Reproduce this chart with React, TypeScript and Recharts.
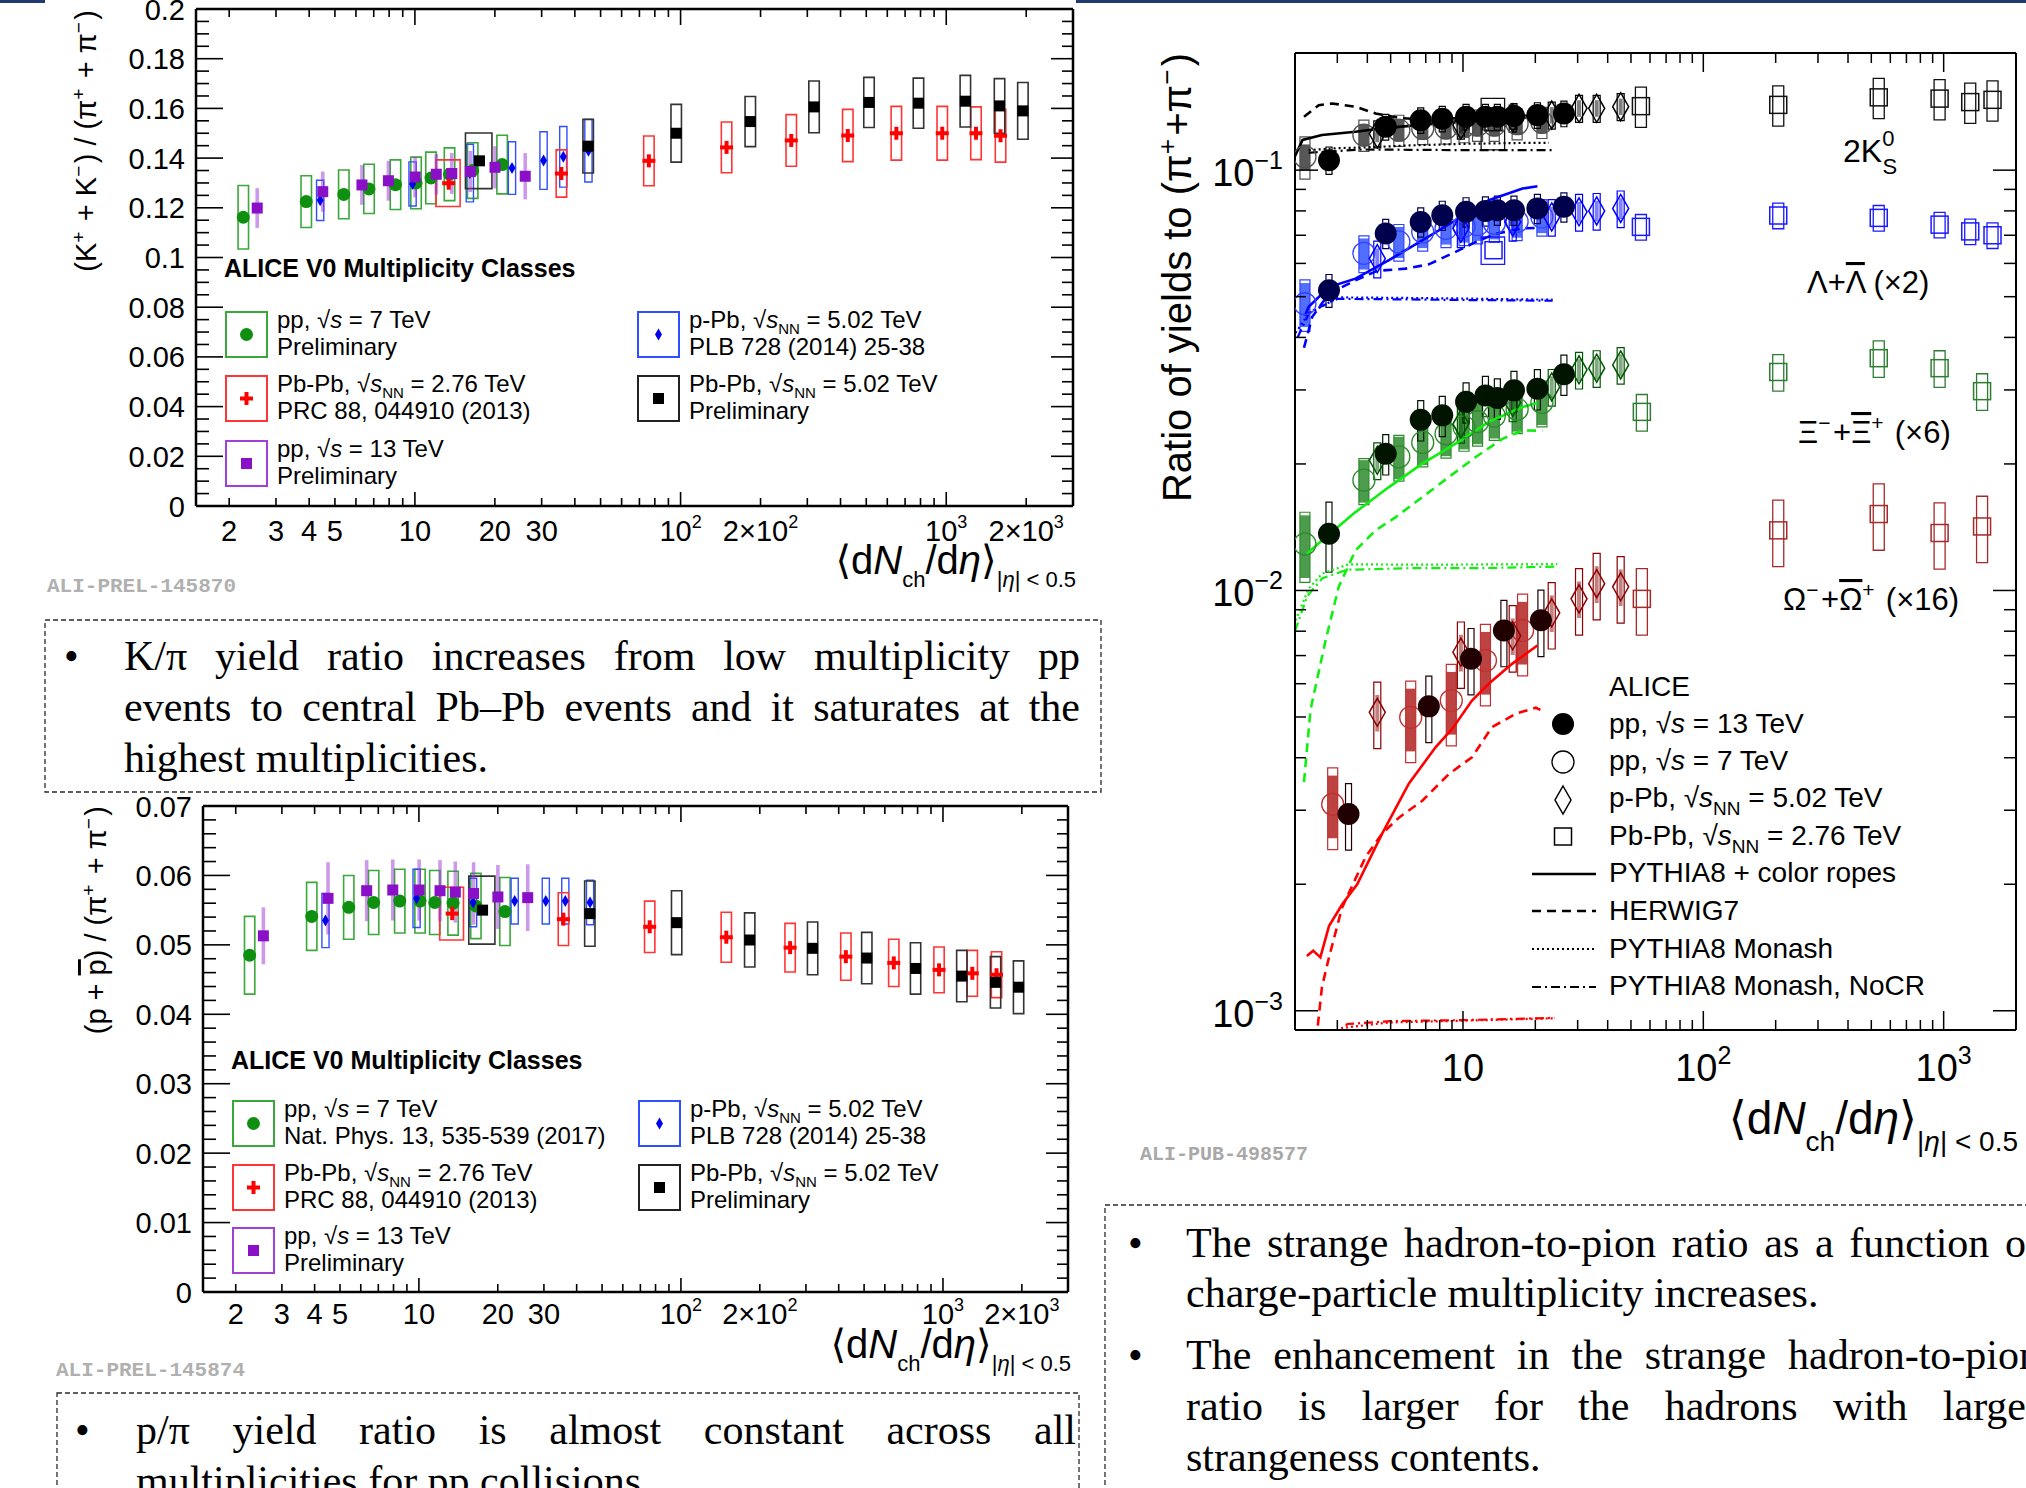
import React from 'react';
import { ComposedChart, XAxis, YAxis, Scatter, Line, ReferenceArea } from 'recharts';

const SANS = "'Liberation Sans', Arial, 'DejaVu Sans', sans-serif";
const SERIF = "'Liberation Serif', 'Times New Roman', serif";
const MONO = "'Liberation Mono', 'DejaVu Sans Mono', monospace";

/* ================= data: <dNch/deta> of the classes ================= */
const pp7X = [2.26, 3.9, 5.4, 6.72, 8.45, 10.1, 11.5, 13.5, 16.5, 21.3];
const pp13X = [2.55, 4.5, 6.32, 7.95, 10.02, 12.04, 13.77, 16.17, 20.02, 26.02];
const pPbX = [4.4, 9.8, 16.1, 23.2, 30.5, 36.2, 45.0];
const pbpb276X = [13.4, 35.6, 76, 149, 261, 426, 649, 966, 1294, 1601];
const pbpb276XErr = [1.4, 0, 0, 0, 0, 0, 0, 0, 0, 0];
const pbpb502X = [17.5, 44.9, 96.3, 183, 318, 512, 786, 1180, 1587, 1943];
const pbpb502XErr = [2.0, 0, 0, 0, 0, 0, 0, 0, 0, 0];

/* ================= K/pi ================= */
const kpiPP7 = [0.1162, 0.1225, 0.1254, 0.1276, 0.1293, 0.13, 0.132, 0.1335, 0.135, 0.1374];
const kpiPP7Sys = [0.0128, 0.0104, 0.0098, 0.0099, 0.01, 0.0104, 0.0104, 0.0106, 0.0112, 0.0118];
const kpiPP13 = [0.1199, 0.1265, 0.1292, 0.1309, 0.1324, 0.1335, 0.1338, 0.1346, 0.1363, 0.1327];
const kpiPP13Sys = [0.008, 0.0081, 0.008, 0.008, 0.0082, 0.0082, 0.0082, 0.0083, 0.0085, 0.0093];
const kpiPPb = [0.123, 0.1296, 0.134, 0.136, 0.139, 0.1405, 0.143];
const kpiPPbSys = [0.0081, 0.0089, 0.0116, 0.0106, 0.0116, 0.0122, 0.0126];
const kpiPbPb276 = [0.1299, 0.1338, 0.1389, 0.1443, 0.1471, 0.1491, 0.15, 0.15, 0.15, 0.149];
const kpiPbPb276Sys = [0.0094, 0.0095, 0.01, 0.0102, 0.0104, 0.0105, 0.0108, 0.0108, 0.0106, 0.0106];
const kpiPbPb502 = [0.1389, 0.1448, 0.15, 0.1547, 0.1606, 0.1624, 0.1621, 0.1629, 0.161, 0.159];
const kpiPbPb502Sys = [0.0112, 0.0108, 0.0116, 0.0101, 0.0104, 0.0101, 0.0101, 0.0104, 0.011, 0.0114];

/* ================= p/pi ================= */
const ppiPP7 = [0.0485, 0.0541, 0.0554, 0.0561, 0.0563, 0.0563, 0.0561, 0.056, 0.0556, 0.0548];
const ppiPP7Sys = [0.0056, 0.0049, 0.0046, 0.0046, 0.0046, 0.0046, 0.0046, 0.0046, 0.0047, 0.0049];
const ppiPP13 = [0.0513, 0.0567, 0.0578, 0.0579, 0.0579, 0.0578, 0.0576, 0.0574, 0.0569, 0.0568];
const ppiPP13Sys = [0.0041, 0.0052, 0.0044, 0.0044, 0.0044, 0.0044, 0.0044, 0.0045, 0.0046, 0.0048];
const ppiPPb = [0.0535, 0.0567, 0.0561, 0.0563, 0.0563, 0.0563, 0.0561];
const ppiPPbSys = [0.0039, 0.0042, 0.0035, 0.0033, 0.0033, 0.0033, 0.0032];
const ppiPbPb276 = [0.0545, 0.0537, 0.0526, 0.0511, 0.0496, 0.0483, 0.0474, 0.0464, 0.0459, 0.0457];
const ppiPbPb276Sys = [0.0038, 0.0038, 0.0037, 0.0036, 0.0035, 0.0034, 0.0034, 0.0033, 0.0033, 0.0033];
const ppiPbPb502 = [0.055, 0.0545, 0.0532, 0.0507, 0.0495, 0.0481, 0.0466, 0.0455, 0.0446, 0.0439];
const ppiPbPb502Sys = [0.0049, 0.0047, 0.0046, 0.0039, 0.0038, 0.0037, 0.0037, 0.0037, 0.0037, 0.0038];

/* ================= strange hadrons / pions ================= */
const strPP13X = [2.77, 4.77, 6.67, 8.2, 10.3, 12.4, 13.9, 16.3, 20.4, 26.3];
const strPP7X = [2.2, 3.87, 5.41, 6.8, 8.5, 10.1, 11.5, 13.5, 16.8, 21.3];
const strPPbX = [4.4, 9.8, 16.1, 23.4, 30.4, 36.0, 45.3];
const strPbPbKLX = [13.4, 55, 205, 537, 962, 1290, 1597];
const strPbPbKLXErr = [1.5, 0, 0, 0, 0, 0, 0];
const strPbPbXOX = [55.5, 205, 537, 962, 1445];
const omPP13X = [3.34, 7.21, 10.8, 14.8, 21.1];
const omPP7X = [2.87, 6.06, 8.94, 12.4, 17.7];

const k0PP13 = [0.1056, 0.1268, 0.1315, 0.1326, 0.134, 0.134, 0.134, 0.1345, 0.1352, 0.1364];
const k0PP13Sys = [0.075, 0.07, 0.07, 0.07, 0.07, 0.07, 0.07, 0.07, 0.07, 0.07];
const k0PP7 = [0.1076, 0.1212, 0.1245, 0.1257, 0.126, 0.127, 0.128, 0.128, 0.129, 0.13];
const k0PP7Unc = [0.07, 0.06, 0.06, 0.06, 0.06, 0.06, 0.06, 0.06, 0.06, 0.06];
const k0PP7Sys = [0.115, 0.085, 0.085, 0.085, 0.085, 0.085, 0.085, 0.085, 0.085, 0.085];
const k0PPb = [0.122, 0.128, 0.133, 0.1352, 0.1403, 0.1403, 0.1416];
const k0PPbSys = [0.074, 0.074, 0.074, 0.074, 0.074, 0.074, 0.074];
const k0PPbStat = [0.045, 0.045, 0.045, 0.045, 0.045, 0.045, 0.045];
const k0PbPb = [0.13, 0.142, 0.143, 0.149, 0.148, 0.1452, 0.147];
const k0PbPbSys = [0.14, 0.11, 0.11, 0.11, 0.11, 0.11, 0.11];

const laPP13 = [0.0518, 0.0707, 0.0753, 0.0781, 0.0796, 0.08, 0.0803, 0.0803, 0.0811, 0.0818];
const laPP13Sys = [0.09, 0.08, 0.08, 0.08, 0.08, 0.08, 0.08, 0.08, 0.08, 0.08];
const laPP7 = [0.0481, 0.0634, 0.0675, 0.0713, 0.0727, 0.0735, 0.0742, 0.0748, 0.0755, 0.0774];
const laPP7Unc = [0.12, 0.085, 0.085, 0.085, 0.085, 0.085, 0.085, 0.085, 0.085, 0.085];
const laPP7Sys = [0.14, 0.1, 0.1, 0.1, 0.1, 0.1, 0.1, 0.1, 0.1, 0.1];
const laPPb = [0.0616, 0.0727, 0.0753, 0.0774, 0.0796, 0.08, 0.0811];
const laPPbSys = [0.1, 0.1, 0.1, 0.1, 0.1, 0.1, 0.1];
const laPPbStat = [0.057, 0.057, 0.057, 0.057, 0.057, 0.057, 0.057];
const laPbPb = [0.0645, 0.0733, 0.078, 0.077, 0.0742, 0.0715, 0.07];
const laPbPbSys = [0.075, 0.07, 0.07, 0.07, 0.07, 0.07, 0.07];

const xiPP13 = [0.01364, 0.02115, 0.02548, 0.0261, 0.0281, 0.0291, 0.0287, 0.02993, 0.0302, 0.0327];
const xiPP13Sys = [0.19, 0.11, 0.11, 0.11, 0.11, 0.11, 0.11, 0.11, 0.11, 0.11];
const xiPP7 = [0.0129, 0.0183, 0.0208, 0.0225, 0.0236, 0.0245, 0.0252, 0.026, 0.027, 0.028];
const xiPP7Unc = [0.17, 0.116, 0.116, 0.116, 0.116, 0.116, 0.116, 0.116, 0.116, 0.116];
const xiPP7Sys = [0.19, 0.125, 0.125, 0.125, 0.125, 0.125, 0.125, 0.125, 0.125, 0.125];
const xiPPb = [0.0204, 0.0249, 0.028, 0.0305, 0.0335, 0.0338, 0.0344];
const xiPPbSys = [0.1, 0.1, 0.1, 0.1, 0.1, 0.1, 0.1];
const xiPPbStat = [0.06, 0.06, 0.06, 0.06, 0.06, 0.06, 0.06];
const xiPbPb = [0.0266, 0.0331, 0.0357, 0.0338, 0.0298];
const xiPbPbSys = [0.1, 0.1, 0.1, 0.1, 0.1];

const omPP13 = [0.00294, 0.0053, 0.00688, 0.00803, 0.00849];
const omPP13Sys = [0.18, 0.18, 0.18, 0.18, 0.18];
const omPP7 = [0.0031, 0.00499, 0.00547, 0.00681, 0.00803];
const omPP7Unc = [0.17, 0.17, 0.17, 0.17, 0.17];
const omPP7Sys = [0.22, 0.22, 0.22, 0.22, 0.22];
const omPPb = [0.00513, 0.00713, 0.0078, 0.00885, 0.00955, 0.01038, 0.0102];
const omPPbSys = [0.18, 0.18, 0.18, 0.18, 0.18, 0.18, 0.18];
const omPPbStat = [0.1, 0.1, 0.1, 0.1, 0.1, 0.1, 0.1];
const omPbPb = [0.00955, 0.0139, 0.0152, 0.0137, 0.0142];
const omPbPbSys = [0.18, 0.18, 0.18, 0.18, 0.18];

/* ================= model curves ================= */
const k0RopesX = [2.0, 2.15, 2.59, 3.57, 4.61, 6.5, 9.0, 12.0, 16.0, 20.4];
const k0RopesY = [0.108, 0.118, 0.1212, 0.1234, 0.1257, 0.128, 0.13, 0.132, 0.133, 0.134];
const k0HerwigX = [2.18, 2.51, 2.85, 3.57, 4.33, 5.5, 7.0, 10.0, 14.0, 20.4];
const k0HerwigY = [0.134, 0.1428, 0.1441, 0.1416, 0.1364, 0.133, 0.132, 0.133, 0.134, 0.135];
const k0MonashX = [2.28, 3.0, 3.8, 6.0, 10.0, 16.0, 22.8];
const k0MonashY = [0.1116, 0.1128, 0.1132, 0.1145, 0.1155, 0.116, 0.1162];
const k0NocrX = [2.28, 3.8, 6.0, 10.0, 16.0, 24.1];
const k0NocrY = [0.11, 0.112, 0.1118, 0.1116, 0.1116, 0.1116];

const laRopesX = [2.2, 2.28, 2.77, 3.57, 4.92, 6.77, 9.32, 12.8, 17.7, 20.4];
const laRopesY = [0.045, 0.0473, 0.0527, 0.0552, 0.0611, 0.0681, 0.076, 0.0848, 0.0904, 0.0916];
const laHerwigX = [2.18, 2.36, 2.77, 3.57, 4.4, 5.77, 7.21, 9.32, 11.3, 13.7, 17.7, 20.4];
const laHerwigY = [0.0378, 0.0448, 0.0508, 0.0547, 0.0576, 0.0583, 0.0597, 0.0639, 0.0675, 0.0706, 0.0727, 0.0729];
const laMonashX = [2.01, 2.28, 3.04, 5.0, 10.0, 16.0, 23.6];
const laMonashY = [0.041, 0.0456, 0.0498, 0.0497, 0.0495, 0.0493, 0.0492];
const laNocrX = [2.05, 2.3, 3.0, 5.0, 10.0, 16.0, 23.6];
const laNocrY = [0.04, 0.046, 0.0494, 0.0493, 0.0491, 0.049, 0.0489];

const xiRopesX = [2.24, 2.59, 3.57, 4.92, 6.77, 9.32, 12.8, 17.7, 20.4];
const xiRopesY = [0.01223, 0.01315, 0.01536, 0.01762, 0.02004, 0.02236, 0.02518, 0.02732, 0.02793];
const xiHerwigX = [2.18, 2.32, 2.68, 3.04, 3.57, 4.33, 5.25, 6.77, 8.74, 11.3, 14.6, 17.7, 21.4];
const xiHerwigY = [0.0035, 0.0052, 0.0076, 0.0102, 0.01245, 0.0139, 0.01495, 0.01667, 0.01862, 0.02077, 0.02295, 0.02403, 0.024];
const xiMonashX = [2.01, 2.28, 2.59, 3.34, 6.0, 12.0, 24.7];
const xiMonashY = [0.00849, 0.0101, 0.01096, 0.01154, 0.01152, 0.01153, 0.01155];
const xiNocrX = [2.0, 2.25, 2.6, 3.3, 6.0, 12.0, 24.5];
const xiNocrY = [0.008, 0.0097, 0.0107, 0.0112, 0.0113, 0.0113, 0.0114];

const omRopesX = [2.24, 2.38, 2.55, 2.77, 3.14, 3.63, 4.61, 5.95, 7.7, 9.03, 10.9, 12.8, 16.0, 20.4];
const omRopesY = [0.00135, 0.00139, 0.00134, 0.00159, 0.00179, 0.002, 0.00264, 0.00347, 0.00424, 0.00469, 0.00547, 0.006, 0.00669, 0.0074];
const omHerwigX = [2.45, 2.59, 2.77, 3.14, 3.93, 4.61, 5.41, 6.77, 8.74, 10.9, 13.2, 16.6, 20.1, 21.0];
const omHerwigY = [0.00085, 0.00114, 0.00134, 0.00176, 0.00232, 0.00264, 0.00288, 0.00316, 0.00366, 0.00401, 0.00473, 0.00509, 0.00526, 0.0052];
const omMonashX = [2.85, 3.14, 4.92, 9.32, 24.3];
const omMonashY = [0.00085, 0.00091, 0.000938, 0.000946, 0.00096];
const omNocrX = [2.9, 3.3, 5.0, 10.0, 24.0];
const omNocrY = [0.00085, 0.00093, 0.000945, 0.00095, 0.000962];

/* ================= tick label sets ================= */
const ratioXLabels: Record<string, [string, string?]> = {
  '2': ['2'], '3': ['3'], '4': ['4'], '5': ['5'], '10': ['10'], '20': ['20'], '30': ['30'],
  '100': ['10', '2'], '200': ['2×10', '2'], '1000': ['10', '3'], '2000': ['2×10', '3'],
};
const strXLabels: Record<string, [string, string?]> = { '10': ['10'], '100': ['10', '2'], '1000': ['10', '3'] };
const strYLabels: Record<string, [string, string?]> = { '0.001': ['10', '−3'], '0.01': ['10', '−2'], '0.1': ['10', '−1'] };

/* ================= helpers ================= */
const pts = (xs: number[], ys: number[]) => xs.map((x, i) => ({ x, y: ys[i] }));
const fpx = (px: number, decade: number) => Math.pow(10, px / decade);
const decadeTicks = (lo: number, hi: number) => {
  const out: number[] = [];
  for (let e = -4; e <= 4; e++)
    for (let m = 1; m <= 9; m++) {
      const v = +(m * Math.pow(10, e)).toPrecision(6);
      if (v > lo * 1.0001 && v < hi * 0.9999) out.push(v);
    }
  return out;
};
const linTicks = (max: number, step: number) =>
  Array.from({ length: Math.round(max / step) + 1 }, (_, i) => +(i * step).toFixed(4));
const isDecade = (v: number) => Math.abs(Math.log10(v) - Math.round(Math.log10(v))) < 1e-6;
const isMult = (step: number) => (v: number) => Math.abs(v / step - Math.round(v / step)) < 1e-6;

const powLabel = (lab: [string, string?] | undefined, sup: number, dy: number) =>
  lab ? (
    <>
      {lab[0]}
      {lab[1] ? <tspan fontSize={sup} dy={dy}>{lab[1]}</tspan> : null}
    </>
  ) : null;

type Side = 'bottom' | 'top' | 'left' | 'right';
type TickCfg = {
  side: Side; isMajor: (v: number) => boolean; majorLen: number; minorLen: number; sw: number;
  label?: (v: number) => React.ReactNode | null; fontSize?: number; gap?: number; base?: number;
};
const makeTick = (c: TickCfg) => (props: any) => {
  const { x, y, payload } = props;
  const v = payload.value as number;
  const len = c.isMajor(v) ? c.majorLen : c.minorLen;
  let ln: React.ReactNode = null;
  if (c.side === 'bottom') ln = <line x1={x} x2={x} y1={y} y2={y - len} stroke="#000" strokeWidth={c.sw} />;
  if (c.side === 'top') ln = <line x1={x} x2={x} y1={y} y2={y + len} stroke="#000" strokeWidth={c.sw} />;
  if (c.side === 'left') ln = <line x1={x} x2={x + len} y1={y} y2={y} stroke="#000" strokeWidth={c.sw} />;
  if (c.side === 'right') ln = <line x1={x} x2={x - len} y1={y} y2={y} stroke="#000" strokeWidth={c.sw} />;
  const lab = c.label ? c.label(v) : null;
  let tx: React.ReactNode = null;
  if (lab !== null && lab !== undefined) {
    if (c.side === 'bottom')
      tx = (
        <text x={x} y={y + (c.gap || 0)} textAnchor="middle" fontSize={c.fontSize} fontFamily={SANS} fill="#000">
          {lab}
        </text>
      );
    if (c.side === 'left')
      tx = (
        <text x={x - (c.gap || 0)} y={y + (c.base || 0)} textAnchor="end" fontSize={c.fontSize} fontFamily={SANS} fill="#000">
          {lab}
        </text>
      );
  }
  return <g>{ln}{tx}</g>;
};

type AbsSeries = { x: number[]; y: number[]; sys: number[]; xErr?: number[] };
function absBoxes(id: string, s: AbsSeries, f: number, st: Record<string, unknown>) {
  return s.x.map((x, i) => {
    const e = s.xErr ? s.xErr[i] : 0;
    return (
      <ReferenceArea key={`${id}${i}`} x1={Math.min(x / f, x - e)} x2={Math.max(x * f, x + e)}
        y1={s.y[i] - s.sys[i]} y2={s.y[i] + s.sys[i]} ifOverflow="hidden" {...(st as any)} />
    );
  });
}
function relBoxes(id: string, xs: number[], ys: number[], rel: number[], f: number, st: Record<string, unknown>, xErr?: number[]) {
  return xs.map((x, i) => {
    const e = xErr ? xErr[i] : 0;
    return (
      <ReferenceArea key={`${id}${i}`} x1={Math.min(x / f, x - e)} x2={Math.max(x * f, x + e)}
        y1={ys[i] * (1 - rel[i])} y2={ys[i] * (1 + rel[i])} ifOverflow="hidden" {...(st as any)} />
    );
  });
}

/* ================= marker shapes ================= */
const dotShape = (r: number, fill: string) => (p: any) => <circle cx={p.cx} cy={p.cy} r={r} fill={fill} />;
const ringShape = (r: number, stroke: string, sw: number) => (p: any) =>
  <circle cx={p.cx} cy={p.cy} r={r} fill="none" stroke={stroke} strokeWidth={sw} />;
const squareShape = (s: number, fill: string, stroke?: string, sw?: number) => (p: any) =>
  <rect x={p.cx - s / 2} y={p.cy - s / 2} width={s} height={s} fill={fill} stroke={stroke} strokeWidth={sw} />;
const crossShape = (s: number, w: number, c: string) => (p: any) => (
  <g stroke={c} strokeWidth={w}>
    <line x1={p.cx - s / 2} x2={p.cx + s / 2} y1={p.cy} y2={p.cy} />
    <line x1={p.cx} x2={p.cx} y1={p.cy - s / 2} y2={p.cy + s / 2} />
  </g>
);
const diamondShape = (w: number, h: number, fill: string, stroke?: string, sw?: number) => (p: any) => (
  <path d={`M${p.cx} ${p.cy - h / 2} L${p.cx + w / 2} ${p.cy} L${p.cx} ${p.cy + h / 2} L${p.cx - w / 2} ${p.cy} Z`}
    fill={fill} stroke={stroke} strokeWidth={sw} />
);

/* ================= colours ================= */
const C = {
  green: '#0f8f0f', greenBox: '#3aa83a', purple: '#8a10c8', purpleBar: '#9b34d6',
  blue: '#0000ee', blueBox: '#3050ff', red: '#ff0000', redBox: '#ff3535', black: '#000000', blackBox: '#333333',
};

/* ================= K/pi and p/pi panels ================= */
type PanelProps = {
  top: number; margin: { top: number; right: number; bottom: number; left: number };
  yMax: number; yMinor: number; yMajor: number; labelGapX: number;
  pp7: AbsSeries; pp13: AbsSeries; ppb: AbsSeries; pbpb276: AbsSeries; pbpb502: AbsSeries; id: string;
};
function RatioPanel(p: PanelProps) {
  const xT = decadeTicks(1.5, 3000);
  const yT = linTicks(p.yMax, p.yMinor);
  const yMaj = isMult(p.yMajor);
  const dec = 264;
  const fG = fpx(5.2, dec), fP = fpx(1.8, dec), fB = fpx(3.6, dec), fR = fpx(5.2, dec), fK = fpx(5.2, dec);
  const frame = { stroke: '#000', strokeWidth: 2.5 };
  const common = { interval: 0 as const, tickSize: 0, tickMargin: 0, tickLine: false, allowDataOverflow: true };
  const m = { top: p.margin.top - 1, right: p.margin.right - 1, bottom: p.margin.bottom - 1, left: p.margin.left - 1 };
  return (
    <div style={{ position: 'absolute', left: 0, top: p.top }}>
      <ComposedChart width={1100} height={600} margin={m}>
        <XAxis xAxisId={0} dataKey="x" type="number" scale="log" domain={[1.5, 3000]} ticks={xT} height={1}
          axisLine={frame} {...common}
          tick={makeTick({ side: 'bottom', isMajor: isDecade, majorLen: 14, minorLen: 8, sw: 1.6, fontSize: 29, gap: p.labelGapX,
            label: (v) => powLabel(ratioXLabels[String(v)], 18, -13) })} />
        <XAxis xAxisId="top" orientation="top" dataKey="x" type="number" scale="log" domain={[1.5, 3000]} ticks={xT} height={1}
          axisLine={frame} {...common}
          tick={makeTick({ side: 'top', isMajor: isDecade, majorLen: 16, minorLen: 8, sw: 1.6 })} />
        <YAxis yAxisId={0} dataKey="y" type="number" domain={[0, p.yMax]} ticks={yT} width={1} axisLine={frame} {...common}
          tick={makeTick({ side: 'left', isMajor: yMaj, majorLen: 27, minorLen: 13, sw: 1.6, fontSize: 29, gap: 11, base: 10.5,
            label: (v) => (yMaj(v) ? (v === 0 ? '0' : String(+v.toFixed(3))) : null) })} />
        <YAxis yAxisId="right" orientation="right" dataKey="y" type="number" domain={[0, p.yMax]} ticks={yT} width={1}
          axisLine={frame} {...common}
          tick={makeTick({ side: 'right', isMajor: yMaj, majorLen: 22, minorLen: 11, sw: 1.6 })} />

        {absBoxes(p.id + 'g', p.pp7, fG, { fill: 'none', stroke: C.greenBox, strokeWidth: 1.6 })}
        {absBoxes(p.id + 'b', p.ppb, fB, { fill: 'none', stroke: C.blueBox, strokeWidth: 1.4 })}
        {absBoxes(p.id + 'r', p.pbpb276, fR, { fill: 'none', stroke: C.redBox, strokeWidth: 1.6 })}
        {absBoxes(p.id + 'k', p.pbpb502, fK, { fill: 'none', stroke: C.blackBox, strokeWidth: 1.6 })}
        {absBoxes(p.id + 'p', p.pp13, fP, { fill: C.purpleBar, stroke: 'none' })}

        <Scatter data={pts(p.pp7.x, p.pp7.y)} dataKey="y" isAnimationActive={false} shape={dotShape(6.5, C.green)} />
        <Scatter data={pts(p.ppb.x, p.ppb.y)} dataKey="y" isAnimationActive={false} shape={diamondShape(7, 12, C.blue)} />
        <Scatter data={pts(p.pbpb276.x, p.pbpb276.y)} dataKey="y" isAnimationActive={false} shape={crossShape(13, 4, C.red)} />
        <Scatter data={pts(p.pbpb502.x, p.pbpb502.y)} dataKey="y" isAnimationActive={false} shape={squareShape(11, C.black)} />
        <Scatter data={pts(p.pp13.x, p.pp13.y)} dataKey="y" isAnimationActive={false} shape={squareShape(11, C.purple)} />
      </ComposedChart>
    </div>
  );
}

/* ================= strangeness panel ================= */
type Sp = {
  id: string;
  pp13: [number[], number[], number[]];
  pp7: [number[], number[], number[], number[]];
  ppb: [number[], number[], number[], number[]];
  pbpb: [number[], number[], number[], number[] | undefined];
  ropes: [number[], number[]]; herwig: [number[], number[]]; monash: [number[], number[]]; nocr: [number[], number[]];
};
const SPECIES: Sp[] = [
  { id: 'k0', pp13: [strPP13X, k0PP13, k0PP13Sys], pp7: [strPP7X, k0PP7, k0PP7Unc, k0PP7Sys],
    ppb: [strPPbX, k0PPb, k0PPbSys, k0PPbStat], pbpb: [strPbPbKLX, k0PbPb, k0PbPbSys, strPbPbKLXErr],
    ropes: [k0RopesX, k0RopesY], herwig: [k0HerwigX, k0HerwigY], monash: [k0MonashX, k0MonashY], nocr: [k0NocrX, k0NocrY] },
  { id: 'la', pp13: [strPP13X, laPP13, laPP13Sys], pp7: [strPP7X, laPP7, laPP7Unc, laPP7Sys],
    ppb: [strPPbX, laPPb, laPPbSys, laPPbStat], pbpb: [strPbPbKLX, laPbPb, laPbPbSys, strPbPbKLXErr],
    ropes: [laRopesX, laRopesY], herwig: [laHerwigX, laHerwigY], monash: [laMonashX, laMonashY], nocr: [laNocrX, laNocrY] },
  { id: 'xi', pp13: [strPP13X, xiPP13, xiPP13Sys], pp7: [strPP7X, xiPP7, xiPP7Unc, xiPP7Sys],
    ppb: [strPPbX, xiPPb, xiPPbSys, xiPPbStat], pbpb: [strPbPbXOX, xiPbPb, xiPbPbSys, undefined],
    ropes: [xiRopesX, xiRopesY], herwig: [xiHerwigX, xiHerwigY], monash: [xiMonashX, xiMonashY], nocr: [xiNocrX, xiNocrY] },
  { id: 'om', pp13: [omPP13X, omPP13, omPP13Sys], pp7: [omPP7X, omPP7, omPP7Unc, omPP7Sys],
    ppb: [strPPbX, omPPb, omPPbSys, omPPbStat], pbpb: [strPbPbXOX, omPbPb, omPbPbSys, undefined],
    ropes: [omRopesX, omRopesY], herwig: [omHerwigX, omHerwigY], monash: [omMonashX, omMonashY], nocr: [omNocrX, omNocrY] },
];
const SP_STYLE: Record<string, { model: string; pp13: string; pp7: string; pp7Fill: string; ppb: string; pbpb: string }> = {
  k0: { model: '#000000', pp13: '#000000', pp7: '#505050', pp7Fill: '#3a3a3a', ppb: '#000000', pbpb: '#111111' },
  la: { model: '#0000ff', pp13: '#00004d', pp7: '#3344ff', pp7Fill: '#3355ff', ppb: '#0000ff', pbpb: '#1a1aff' },
  xi: { model: '#11ee11', pp13: '#001400', pp7: '#2e8b2e', pp7Fill: '#2e8b2e', ppb: '#005500', pbpb: '#2e7d32' },
  om: { model: '#ff0000', pp13: '#200000', pp7: '#c03030', pp7Fill: '#b22222', ppb: '#8b0000', pbpb: '#a52a2a' },
};
const MODEL_STYLE = {
  ropes: { dash: undefined as string | undefined, w: 2.6 },
  herwig: { dash: '9 6', w: 2.6 },
  monash: { dash: '2 3', w: 2.2 },
  nocr: { dash: '9 4 2 4', w: 2.2 },
};

function StrangenessPanel() {
  const xT = decadeTicks(2, 2000);
  const yT = decadeTicks(0.0009, 0.19);
  const dec = 240;
  const f13 = fpx(3, dec), f7 = fpx(5, dec), fBo = fpx(3.5, dec), fBi = fpx(2, dec), fPb = fpx(5.5, dec);
  const frame = { stroke: '#000', strokeWidth: 2 };
  const common = { interval: 0 as const, tickSize: 0, tickMargin: 0, tickLine: false, allowDataOverflow: true };
  const boxes: React.ReactNode[] = [];
  const lines: React.ReactNode[] = [];
  const marks: React.ReactNode[] = [];
  SPECIES.forEach((sp) => {
    const st = SP_STYLE[sp.id];
    boxes.push(...relBoxes(sp.id + 'u', sp.pp7[0], sp.pp7[1], sp.pp7[2], f7, { fill: st.pp7Fill, fillOpacity: 0.85, stroke: 'none' }));
    boxes.push(...relBoxes(sp.id + 's', sp.pp7[0], sp.pp7[1], sp.pp7[3], f7, { fill: 'none', stroke: st.pp7, strokeWidth: 1.2 }));
    boxes.push(...relBoxes(sp.id + 'bs', sp.ppb[0], sp.ppb[1], sp.ppb[2], fBo, { fill: 'none', stroke: st.ppb, strokeWidth: 1.2 }));
    boxes.push(...relBoxes(sp.id + 'bt', sp.ppb[0], sp.ppb[1], sp.ppb[3], fBi, { fill: st.ppb, stroke: 'none' }));
    boxes.push(...relBoxes(sp.id + 'pb', sp.pbpb[0], sp.pbpb[1], sp.pbpb[2], fPb, { fill: 'none', stroke: st.pbpb, strokeWidth: 1.3 }, sp.pbpb[3]));
    boxes.push(...relBoxes(sp.id + 'p13', sp.pp13[0], sp.pp13[1], sp.pp13[2], f13, { fill: 'none', stroke: st.pp13, strokeWidth: 1.2 }));
    (['ropes', 'herwig', 'monash', 'nocr'] as const).forEach((m) => {
      const [xs, ys] = sp[m];
      lines.push(
        <Line key={sp.id + m} data={pts(xs, ys)} dataKey="y" type="linear" stroke={st.model} strokeWidth={MODEL_STYLE[m].w}
          strokeDasharray={MODEL_STYLE[m].dash} dot={false} activeDot={false} isAnimationActive={false} legendType="none" />
      );
    });
    marks.push(<Scatter key={sp.id + 'm7'} data={pts(sp.pp7[0], sp.pp7[1])} dataKey="y" isAnimationActive={false} shape={ringShape(11, st.pp7, 1.3)} />);
    marks.push(<Scatter key={sp.id + 'mb'} data={pts(sp.ppb[0], sp.ppb[1])} dataKey="y" isAnimationActive={false} shape={diamondShape(16, 28, 'none', st.ppb, 1.5)} />);
    marks.push(<Scatter key={sp.id + 'mp'} data={pts(sp.pbpb[0], sp.pbpb[1])} dataKey="y" isAnimationActive={false} shape={squareShape(17, 'none', st.pbpb, 1.5)} />);
    marks.push(<Scatter key={sp.id + 'm13'} data={pts(sp.pp13[0], sp.pp13[1])} dataKey="y" isAnimationActive={false} shape={dotShape(11, st.pp13)} />);
  });
  return (
    <div style={{ position: 'absolute', left: 1100, top: 0 }}>
      <ComposedChart width={926} height={1100} margin={{ top: 52, right: 9, bottom: 69, left: 194 }}>
        <XAxis xAxisId={0} dataKey="x" type="number" scale="log" domain={[2, 2000]} ticks={xT} height={1} axisLine={frame} {...common}
          tick={makeTick({ side: 'bottom', isMajor: isDecade, majorLen: 19, minorLen: 10, sw: 1.5, fontSize: 38, gap: 51,
            label: (v) => powLabel(strXLabels[String(v)], 25, -17) })} />
        <XAxis xAxisId="top" orientation="top" dataKey="x" type="number" scale="log" domain={[2, 2000]} ticks={xT} height={1}
          axisLine={frame} {...common}
          tick={makeTick({ side: 'top', isMajor: isDecade, majorLen: 19, minorLen: 10, sw: 1.5 })} />
        <YAxis yAxisId={0} dataKey="y" type="number" scale="log" domain={[0.0009, 0.19]} ticks={yT} width={1} axisLine={frame} {...common}
          tick={makeTick({ side: 'left', isMajor: isDecade, majorLen: 23, minorLen: 11, sw: 1.5, fontSize: 38, gap: 12, base: 16,
            label: (v) => powLabel(strYLabels[String(v)], 25, -17) })} />
        <YAxis yAxisId="right" orientation="right" dataKey="y" type="number" scale="log" domain={[0.0009, 0.19]} ticks={yT} width={1}
          axisLine={frame} {...common}
          tick={makeTick({ side: 'right', isMajor: isDecade, majorLen: 23, minorLen: 12, sw: 1.5 })} />
        {boxes}
        {lines}
        {marks}
      </ComposedChart>
    </div>
  );
}

/* ================= overlay texts ================= */
const Sup = ({ t, d = 11, s = 19 }: { t: string; d?: number; s?: number }) => (
  <>
    <tspan dy={-d} fontSize={s}>{t}</tspan>
    <tspan dy={d}>{'\u200A'}</tspan>
  </>
);

function LegendBlockLeft({ bx, by, color, marker, l1, l2, tx }: any) {
  return (
    <g>
      <rect x={bx} y={by} width={41} height={45} fill="none" stroke={color} strokeWidth={2} />
      <g transform={`translate(${bx + 20.5},${by + 22.5})`}>{marker}</g>
      <text x={tx} y={by + 16} fontSize={24}>{l1}</text>
      <text x={tx} y={by + 43} fontSize={24}>{l2}</text>
    </g>
  );
}
const ppLine = (e: string) => (
  <>pp, √<tspan fontStyle="italic">s</tspan> = {e} TeV</>
);
const nnLine = (sys: string, e: string, sub = 15, d = 6) => (
  <>{sys}, √<tspan fontStyle="italic">s</tspan><tspan fontSize={sub} dy={d}>NN</tspan><tspan dy={-d}> = {e} TeV</tspan></>
);

const mkGreen = <circle cx={0} cy={0} r={6.5} fill={C.green} />;
const mkRed = (
  <g stroke={C.red} strokeWidth={4}><line x1={-6.5} x2={6.5} y1={0} y2={0} /><line x1={0} x2={0} y1={-6.5} y2={6.5} /></g>
);
const mkPurple = <rect x={-5.5} y={-5.5} width={11} height={11} fill={C.purple} />;
const mkBlue = <path d="M0 -6 L3.5 0 L0 6 L-3.5 0 Z" fill={C.blue} />;
const mkBlack = <rect x={-5.5} y={-5.5} width={11} height={11} fill="#000" />;

function PanelLegend({ titleX, titleY, lx, rx, rows, bottomRef }: any) {
  return (
    <g>
      <text x={titleX} y={titleY} fontSize={25} fontWeight="bold">ALICE V0 Multiplicity Classes</text>
      <LegendBlockLeft bx={lx} by={rows[0]} color={C.greenBox} marker={mkGreen} l1={ppLine('7')} l2={bottomRef} tx={lx + 51} />
      <LegendBlockLeft bx={lx} by={rows[1]} color={C.redBox} marker={mkRed} l1={nnLine('Pb-Pb', '2.76')} l2="PRC 88, 044910 (2013)" tx={lx + 51} />
      <LegendBlockLeft bx={lx} by={rows[2]} color="#a040d8" marker={mkPurple} l1={ppLine('13')} l2="Preliminary" tx={lx + 51} />
      <LegendBlockLeft bx={rx} by={rows[0]} color={C.blueBox} marker={mkBlue} l1={nnLine('p-Pb', '5.02')} l2="PLB 728 (2014) 25-38" tx={rx + 51} />
      <LegendBlockLeft bx={rx} by={rows[1]} color="#222" marker={mkBlack} l1={nnLine('Pb-Pb', '5.02')} l2="Preliminary" tx={rx + 51} />
    </g>
  );
}

function XTitle({ x, y, fs, ss, d }: { x: number; y: number; fs: number; ss: number; d: number }) {
  return (
    <text x={x} y={y} textAnchor="end" fontSize={fs}>
      ⟨d<tspan fontStyle="italic">N</tspan>
      <tspan fontSize={ss} dy={d}>ch</tspan>
      <tspan dy={-d}>/d</tspan>
      <tspan fontStyle="italic">η</tspan>⟩
      <tspan fontSize={ss} dy={d}>|<tspan fontStyle="italic">η</tspan>| &lt; 0.5</tspan>
    </text>
  );
}

function Overlay() {
  const dash = { fill: 'none', stroke: '#2a2a2a', strokeWidth: 1.3, strokeDasharray: '5 3' };
  const legY = [733, 770, 807, 845, 882, 920, 958, 995];
  return (
    <svg width={2026} height={1488} style={{ position: 'absolute', left: 0, top: 0, pointerEvents: 'none' }} fontFamily={SANS} fill="#000">
      <rect x={0} y={0} width={45} height={3} fill="#1f3a6e" />
      <rect x={1076} y={0} width={950} height={3} fill="#1f3a6e" />
      <rect x={45} y={620} width={1056} height={172} {...dash} />
      <rect x={57} y={1393} width={1022} height={200} {...dash} />
      <rect x={1105} y={1205} width={1000} height={400} {...dash} />

      {/* K/pi panel */}
      <text transform="translate(96,10) rotate(-90)" textAnchor="end" fontSize={29}>
        (K<Sup t="+" /> + K<Sup t="−" />) / (π<Sup t="+" /> + π<Sup t="−" />)
      </text>
      <XTitle x={1076} y={574} fs={40} ss={22} d={13} />
      <PanelLegend titleX={224} titleY={277} lx={226} rx={638} rows={[312, 376, 441]} bottomRef="Preliminary" />
      <text x={47} y={592} fontFamily={MONO} fontWeight="bold" fontSize={21} fill="#b0b0b0">ALI-PREL-145870</text>

      {/* p/pi panel */}
      <text transform="translate(106,806) rotate(-90)" textAnchor="end" fontSize={29}>
        (p + <tspan textDecoration="overline">p</tspan>) / (π<Sup t="+" /> + π<Sup t="−" />)
      </text>
      <XTitle x={1071} y={1358} fs={40} ss={22} d={13} />
      <PanelLegend titleX={231} titleY={1069} lx={233} rx={639} rows={[1101, 1165, 1228]} bottomRef="Nat. Phys. 13, 535-539 (2017)" />
      <text x={56} y={1376} fontFamily={MONO} fontWeight="bold" fontSize={21} fill="#b0b0b0">ALI-PREL-145874</text>

      {/* strangeness panel */}
      <text transform="translate(1191,53) rotate(-90)" textAnchor="end" fontSize={40}>
        Ratio of yields to (π<Sup t="+" d={15} s={26} />+π<Sup t="−" d={15} s={26} />)
      </text>
      <XTitle x={2018} y={1134} fs={46} ss={28} d={17} />
      <text x={1140} y={1160} fontFamily={MONO} fontWeight="bold" fontSize={20} fill="#a8a8a8">ALI-PUB-498577</text>

      <text x={1843} y={162} fontSize={32}>2K<tspan fontSize={22} dy={-16}>0</tspan><tspan fontSize={22} dx={-12} dy={28}>S</tspan></text>
      <text x={1807} y={293} fontSize={31}>Λ+<tspan textDecoration="overline">Λ</tspan> (×2)</text>
      <text x={1798} y={443} fontSize={31}>Ξ<Sup t="−" d={13} s={21} />+<tspan textDecoration="overline">Ξ</tspan><Sup t="+" d={13} s={21} /> (×6)</text>
      <text x={1783} y={610} fontSize={31}>Ω<Sup t="−" d={13} s={21} />+<tspan textDecoration="overline">Ω</tspan><Sup t="+" d={13} s={21} /> (×16)</text>

      <text x={1609} y={696} fontSize={28}>ALICE</text>
      <circle cx={1563} cy={724} r={11} fill="#000" />
      <circle cx={1563} cy={762} r={11} fill="none" stroke="#000" strokeWidth={1.3} />
      <path d="M1563 786 L1571 800 L1563 814 L1555 800 Z" fill="none" stroke="#000" strokeWidth={1.5} />
      <rect x={1554.5} y={828} width={17} height={17} fill="none" stroke="#000" strokeWidth={1.5} />
      <line x1={1532} x2={1596} y1={874} y2={874} stroke="#000" strokeWidth={2.6} />
      <line x1={1532} x2={1596} y1={911} y2={911} stroke="#000" strokeWidth={2.6} strokeDasharray="9 6" />
      <line x1={1532} x2={1596} y1={949} y2={949} stroke="#000" strokeWidth={2.2} strokeDasharray="2 3" />
      <line x1={1532} x2={1596} y1={987} y2={987} stroke="#000" strokeWidth={2.2} strokeDasharray="9 4 2 4" />
      <text x={1609} y={legY[0]} fontSize={28}>{ppLine('13')}</text>
      <text x={1609} y={legY[1]} fontSize={28}>{ppLine('7')}</text>
      <text x={1609} y={legY[2]} fontSize={28}>{nnLine('p-Pb', '5.02', 19, 8)}</text>
      <text x={1609} y={legY[3]} fontSize={28}>{nnLine('Pb-Pb', '2.76', 19, 8)}</text>
      <text x={1609} y={legY[4]} fontSize={28}>PYTHIA8 + color ropes</text>
      <text x={1609} y={legY[5]} fontSize={28}>HERWIG7</text>
      <text x={1609} y={legY[6]} fontSize={28}>PYTHIA8 Monash</text>
      <text x={1609} y={legY[7]} fontSize={28}>PYTHIA8 Monash, NoCR</text>
    </svg>
  );
}

/* ================= bullet text ================= */
function TL({ left, baseline, width, justify, children }: any) {
  return (
    <div style={{
      position: 'absolute', left, top: baseline - 35, width, height: 42, fontFamily: SERIF, fontSize: 42,
      lineHeight: '42px', textAlign: justify ? 'justify' : 'left', textAlignLast: justify ? 'justify' : 'left', color: '#000',
    }}>{children}</div>
  );
}
const Bullet = ({ cx, baseline }: { cx: number; baseline: number }) => (
  <div style={{ position: 'absolute', left: cx - 8, top: baseline - 35, fontFamily: SERIF, fontSize: 42, lineHeight: '42px' }}>•</div>
);

export default function App() {
  return (
    <div style={{ position: 'absolute', left: 0, top: 0, width: 2026, height: 1488, overflow: 'hidden', background: '#fff' }}>
      <RatioPanel id="kpi" top={0} margin={{ top: 9, right: 27, bottom: 94, left: 196 }} yMax={0.2} yMinor={0.005} yMajor={0.02} labelGapX={35}
        pp7={{ x: pp7X, y: kpiPP7, sys: kpiPP7Sys }} pp13={{ x: pp13X, y: kpiPP13, sys: kpiPP13Sys }}
        ppb={{ x: pPbX, y: kpiPPb, sys: kpiPPbSys }} pbpb276={{ x: pbpb276X, y: kpiPbPb276, sys: kpiPbPb276Sys, xErr: pbpb276XErr }}
        pbpb502={{ x: pbpb502X, y: kpiPbPb502, sys: kpiPbPb502Sys, xErr: pbpb502XErr }} />
      <RatioPanel id="ppi" top={780} margin={{ top: 26, right: 32, bottom: 88, left: 203 }} yMax={0.07} yMinor={0.002} yMajor={0.01} labelGapX={32}
        pp7={{ x: pp7X, y: ppiPP7, sys: ppiPP7Sys }} pp13={{ x: pp13X, y: ppiPP13, sys: ppiPP13Sys }}
        ppb={{ x: pPbX, y: ppiPPb, sys: ppiPPbSys }} pbpb276={{ x: pbpb276X, y: ppiPbPb276, sys: ppiPbPb276Sys, xErr: pbpb276XErr }}
        pbpb502={{ x: pbpb502X, y: ppiPbPb502, sys: ppiPbPb502Sys, xErr: pbpb502XErr }} />
      <StrangenessPanel />

      <Bullet cx={72} baseline={670} />
      <TL left={124} baseline={670} width={956} justify>K/π yield ratio increases from low multiplicity pp</TL>
      <TL left={124} baseline={721} width={956} justify>events to central Pb–Pb events and it saturates at the</TL>
      <TL left={124} baseline={772} width={956}>highest multiplicities.</TL>

      <Bullet cx={83} baseline={1444} />
      <TL left={136} baseline={1444} width={940} justify>p/π yield ratio is almost constant across all</TL>
      <TL left={136} baseline={1495} width={940}>multiplicities for pp collisions.</TL>

      <Bullet cx={1136} baseline={1257} />
      <TL left={1186} baseline={1257} width={854} justify>The strange hadron-to-pion ratio as a function of</TL>
      <TL left={1186} baseline={1307} width={854}>charge-particle multiplicity increases.</TL>
      <Bullet cx={1136} baseline={1369} />
      <TL left={1186} baseline={1369} width={854} justify>The enhancement in the strange hadron-to-pion</TL>
      <TL left={1186} baseline={1420} width={854} justify>ratio is larger for the hadrons with larger</TL>
      <TL left={1186} baseline={1471} width={854}>strangeness contents.</TL>

      <Overlay />
    </div>
  );
}
